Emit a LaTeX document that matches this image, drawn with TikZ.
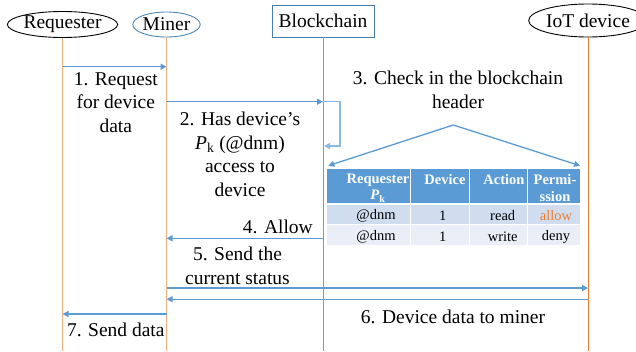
\documentclass[tikz,border=0pt]{standalone}
\usepackage{fontspec}
\setmainfont{Liberation Serif}
\usepackage{tikz}
\usetikzlibrary{arrows.meta,shapes.geometric,positioning,calc}

\definecolor{msgblue}{RGB}{91,155,213}
\definecolor{loopblue}{RGB}{140,185,228}
\definecolor{lifelight}{RGB}{244,177,131}
\definecolor{lifedark}{RGB}{237,125,49}
\definecolor{rowone}{RGB}{207,221,238}
\definecolor{rowtwo}{RGB}{233,238,247}
\definecolor{allowc}{RGB}{237,125,49}

\tikzset{
  bigfont/.style={font=\fontsize{19.5}{23.5}\selectfont},
  actor/.style={ellipse, draw, line width=0.9pt, inner sep=0pt, bigfont},
  chainbox/.style={rectangle, draw=msgblue!80!black, line width=0.9pt, inner sep=0pt, bigfont},
  lifeA/.style={lifelight, line width=1.6pt},
  lifeB/.style={lifedark, line width=1pt},
  msg/.style={msgblue, line width=1.3pt, -{Triangle[length=6pt,width=6pt]}},
  loopmsg/.style={loopblue, line width=1.3pt, -{Triangle[length=6pt,width=6pt]}},
  lbl/.style={bigfont, align=center, inner sep=0pt},
  tabtext/.style={font=\fontsize{14.5}{16.5}\selectfont, inner sep=0pt, align=center},
  tabhead/.style={tabtext, text=white, font=\fontsize{14.5}{16.5}\selectfont\bfseries}
}

\begin{document}
\begin{tikzpicture}[x=1pt,y=1pt,yscale=-1]
\useasboundingbox (0,0) rectangle (636,351);

% Actors
\node[actor, minimum width=104, minimum height=26] (req) at (62.5,24.5) {Requester};
\node[actor, draw=msgblue!85!black, minimum width=66, minimum height=25] (min) at (166.5,24.5) {Miner};
\node[chainbox, minimum width=102, minimum height=32] (chain) at (323,21) {Blockchain};
\node[actor, minimum width=99, minimum height=33] (iot) at (588,20.5) {IoT device};

% Lifelines
\draw[lifeA] (req.south) -- (req |- 0,351);
\draw[lifeA] (min.south) -- (min |- 0,351);
\draw[lifeB] (chain.south) -- (chain |- 0,351);
\draw[lifeB] (iot.south) -- (iot |- 0,351);

% Messages
\draw[msg] (req |- 0,66.7) -- (min |- 0,66.7);
\draw[msg] (min |- 0,101.7) -- (chain |- 0,101.7);
\draw[loopmsg] (chain |- 0,101.7) -- ++(17,0) |- ($(chain |- 0,146)+(1,0)$);
\draw[msg] (chain |- 0,238.3) -- (min |- 0,238.3);
\draw[msg] (min |- 0,288) -- (iot |- 0,288);
\draw[msg] (iot |- 0,299.2) -- (min |- 0,299.2);
\draw[msg] (min |- 0,314) -- (req |- 0,314);

% Header check
\coordinate (apex) at (453.3,125);
\coordinate (tabL) at (328.3,165.7);
\coordinate (tabR) at (580,165.7);
\draw[msg] (apex) -- (tabL);
\draw[msg] (apex) -- (tabR);

% Text Node
\node[lbl, anchor=north] (l1) at (115.8,72) {1. Request\\for device\\data};
% Text Node
\node[lbl, anchor=north] (l2) at (240,112) {2. Has device's\\\textit{P}\textsubscript{k} (@dnm)\\access to\\device};
% Text Node
\node[lbl, anchor=north] (l3) at (458,71) {3. Check in the blockchain\\header};
% Text Node
\node[lbl, anchor=base east] (l4) at (313,233) {4. Allow};
% Text Node
\node[lbl, anchor=north] (l5) at (237.5,247) {5. Send the\\current status};
% Text Node
\node[lbl, anchor=base] (l6) at (453,323) {6. Device data to miner};
% Text Node
\node[lbl, anchor=base] (l7) at (115.8,336.7) {7. Send data};

% Table
\fill[msgblue] (327.3,169) rectangle (580,204);
\fill[rowone] (327.3,204) rectangle (580,224.5);
\fill[rowtwo] (327.3,224.5) rectangle (580,245);
\draw[white, line width=1.5pt] (327.3,204) -- (580,204);
\draw[white, line width=1.2pt] (327.3,224.5) -- (580,224.5);
\foreach \cx in {410.7,469.3,527.7}
  \draw[white, line width=1.5pt] (\cx,169) -- (\cx,245);

\node[tabhead] (h1) at (378,188) {Requester\\\textit{P}\textsubscript{k}};
\node[tabhead] (h2) at (445,180) {Device};
\node[tabhead] (h3) at (504,180) {Action};
\node[tabhead] (h4) at (555,188) {Permi-\\ssion};

\node[tabtext] (a1) at (376,216) {@dnm};
\node[tabtext] (b1) at (442.7,216) {1};
\node[tabtext] (c1) at (502.7,216) {read};
\node[tabtext, text=allowc] (d1) at (556,216) {allow};
\node[tabtext] (a2) at (376,236.7) {@dnm};
\node[tabtext] (b2) at (442.7,236.7) {1};
\node[tabtext] (c2) at (502.7,236.7) {write};
\node[tabtext] (d2) at (556,236.7) {deny};

\end{tikzpicture}
\end{document}
